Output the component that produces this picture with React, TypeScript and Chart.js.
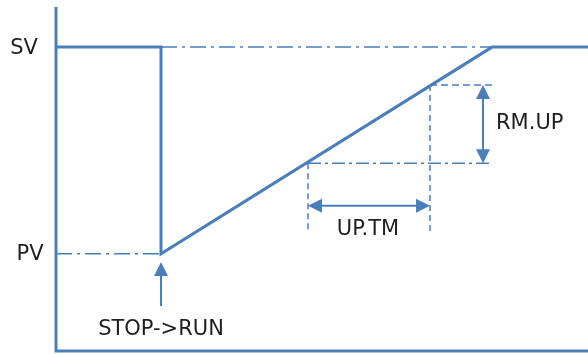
import { useEffect, useRef } from 'react';
import { Chart, registerables } from 'chart.js';

Chart.register(...registerables);

// ---- data (time units on x, process value units on y) ----
const X_MAX = 53.2;
const Y_MAX = 113.2;
const SV = 100;
const PV = 32;
const T_RUN = 10.5;
const T_REACH = 43.6;
const T_UP_START = 25.2;
const T_UP_END = 37.4;
const LEVEL_LOW = 61.8;
const LEVEL_HIGH = 87.5;
const GUIDE_BOTTOM = 39.2;

const profileX = [0, T_RUN, T_RUN, T_REACH, X_MAX];
const profileY = [SV, SV, PV, SV, SV];

const axisX = [0, 0, X_MAX];
const axisY = [Y_MAX, 0, 0];

const UPTM_ARROW_Y = 47.8;
const RMUP_ARROW_X = 42.7;
const RUN_ARROW_FROM = 14.8;
const RUN_ARROW_TO = 29.3;

const labelTexts = ['SV', 'PV', 'UP.TM', 'RM.UP', 'STOP->RUN'];
const labelX = [-3.2, -2.6, 31.2, 44.0, T_RUN];
const labelY = [99.6, 31.6, 40.1, 74.8, 7.1];
const labelAlign = ['center', 'center', 'center', 'left', 'center'];

const BLUE = '#4a7ebb';

function pts(xs: number[], ys: number[]) {
  return xs.map((x, i) => ({ x, y: ys[i] }));
}

function drawArrow(ctx: CanvasRenderingContext2D, x1: number, y1: number, x2: number, y2: number, headStart: boolean, headEnd: boolean) {
  const len = 14;
  const half = 7;
  const ang = Math.atan2(y2 - y1, x2 - x1);
  const cos = Math.cos(ang);
  const sin = Math.sin(ang);
  const sx = headStart ? x1 + cos * (len - 1) : x1;
  const sy = headStart ? y1 + sin * (len - 1) : y1;
  const ex = headEnd ? x2 - cos * (len - 1) : x2;
  const ey = headEnd ? y2 - sin * (len - 1) : y2;
  ctx.save();
  ctx.strokeStyle = BLUE;
  ctx.fillStyle = BLUE;
  ctx.lineWidth = 2;
  ctx.setLineDash([]);
  ctx.beginPath();
  ctx.moveTo(sx, sy);
  ctx.lineTo(ex, ey);
  ctx.stroke();
  const head = (tx: number, ty: number, dx: number, dy: number) => {
    const bx = tx - dx * len;
    const by = ty - dy * len;
    ctx.beginPath();
    ctx.moveTo(tx, ty);
    ctx.lineTo(bx - dy * half, by + dx * half);
    ctx.lineTo(bx + dy * half, by - dx * half);
    ctx.closePath();
    ctx.fill();
  };
  if (headEnd) head(x2, y2, cos, sin);
  if (headStart) head(x1, y1, -cos, -sin);
  ctx.restore();
}

const annotationPlugin = {
  id: 'annotations',
  afterDatasetsDraw(chart: any) {
    const { ctx, scales } = chart;
    const xs = scales.x;
    const ys = scales.y;
    const px = (v: number) => xs.getPixelForValue(v);
    const py = (v: number) => ys.getPixelForValue(v);

    drawArrow(ctx, px(T_UP_START), py(UPTM_ARROW_Y), px(T_UP_END), py(UPTM_ARROW_Y), true, true);
    drawArrow(ctx, px(RMUP_ARROW_X), py(LEVEL_HIGH), px(RMUP_ARROW_X), py(LEVEL_LOW), true, true);
    drawArrow(ctx, px(T_RUN), py(RUN_ARROW_FROM), px(T_RUN), py(RUN_ARROW_TO), false, true);

    ctx.save();
    ctx.fillStyle = '#1e1e1e';
    ctx.font = '21px "DejaVu Sans", sans-serif';
    ctx.textBaseline = 'middle';
    labelTexts.forEach((t, i) => {
      ctx.textAlign = labelAlign[i] as CanvasTextAlign;
      ctx.fillText(t, px(labelX[i]), py(labelY[i]));
    });
    ctx.restore();
  },
};

export default function App() {
  const canvasRef = useRef<HTMLCanvasElement | null>(null);

  useEffect(() => {
    if (!canvasRef.current) return;
    const thin = { borderColor: BLUE, borderWidth: 1.5, pointRadius: 0, showLine: true, fill: false, clip: false as any };
    const chart = new Chart(canvasRef.current, {
      type: 'scatter',
      data: {
        datasets: [
          { ...thin, data: pts([T_RUN, T_REACH], [SV, SV]), borderDash: [16, 5, 3, 5] },
          { ...thin, data: pts([0, T_RUN], [PV, PV]), borderDash: [16, 5, 3, 5] },
          { ...thin, data: pts([T_UP_START, T_REACH], [LEVEL_LOW, LEVEL_LOW]), borderDash: [13, 4, 3, 4] },
          { ...thin, data: pts([T_UP_END, T_REACH], [LEVEL_HIGH, LEVEL_HIGH]), borderDash: [7, 4] },
          { ...thin, data: pts([T_UP_START, T_UP_START], [LEVEL_LOW, GUIDE_BOTTOM]), borderDash: [6, 4] },
          { ...thin, data: pts([T_UP_END, T_UP_END], [LEVEL_HIGH, GUIDE_BOTTOM]), borderDash: [6, 4] },
          { data: pts(axisX, axisY), borderColor: BLUE, borderWidth: 3, pointRadius: 0, showLine: true, fill: false, clip: false as any, borderJoinStyle: 'miter' },
          { data: pts(profileX, profileY), borderColor: BLUE, borderWidth: 3, pointRadius: 0, showLine: true, fill: false, clip: false as any, borderJoinStyle: 'miter' },
        ] as any,
      },
      options: {
        animation: false,
        responsive: false,
        layout: { padding: { left: 56, top: 7, right: 0, bottom: 3 } },
        plugins: { legend: { display: false }, tooltip: { enabled: false } },
        events: [],
        scales: {
          x: { type: 'linear', min: 0, max: X_MAX, display: false },
          y: { type: 'linear', min: 0, max: Y_MAX, display: false },
        },
      },
      plugins: [annotationPlugin],
    });
    return () => chart.destroy();
  }, []);

  return (
    <div style={{ position: 'fixed', left: 0, top: 0, width: 588, height: 354, background: '#fff' }}>
      <canvas ref={canvasRef} width={588} height={354} style={{ display: 'block' }} />
    </div>
  );
}
